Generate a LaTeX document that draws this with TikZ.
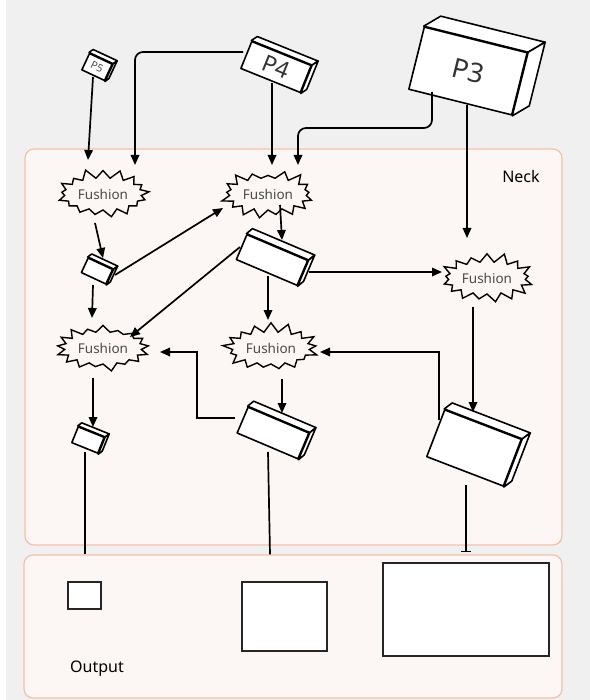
\documentclass[tikz,border=0pt]{standalone}
\usepackage{fontspec}
\setmainfont{Noto Sans}
\usepackage{tikz}
\usetikzlibrary{shapes.symbols, arrows.meta, calc}
\definecolor{panelfill}{HTML}{FCF7F5}
\definecolor{paneledge}{HTML}{F6BFA9}
\definecolor{canvasgray}{HTML}{F0F0F0}
\definecolor{labelgray}{HTML}{4A4A4A}
\tikzset{
    panel/.style={draw=paneledge, line width=1.2pt, fill=panelfill, rounded corners=9pt, inner sep=0pt},
    fusion/.style={starburst, starburst points=17, starburst point height=10pt, draw=black, line width=1.4pt, fill=panelfill, text=labelgray, font=\fontsize{13.5}{15}\selectfont, minimum width=97pt, minimum height=52pt, inner sep=0pt},
    slab/.style={draw=black, line width=1.6pt, fill=white, inner sep=0pt, line join=round},
    outbox/.style={draw=black!85, line width=1.7pt, fill=white, inner sep=0pt},
    arr/.style={-{Triangle[length=10pt, width=8.5pt]}, line width=1.7pt},
    link/.style={line width=1.7pt},
    tag/.style={font=\fontsize{16}{18}\selectfont, text=black, inner sep=0pt}
}
\newcommand{\slabfaces}[3]{%
    \draw[slab] (#1.north west) -- ++(#2,#3) -- ($(#1.north east)+(#2,#3)$) -- (#1.north east) -- cycle;
    \draw[slab] (#1.north east) -- ++(#2,#3) -- ($(#1.south east)+(#2,#3)$) -- (#1.south east) -- cycle;
}
\begin{document}
\begin{tikzpicture}[x=1pt, y=-1pt]
    \useasboundingbox (0,0) rectangle (589,700);
    \fill[white] (0,0) rectangle (589,700);
    \fill[canvasgray] (6,-5) rectangle (600,705);

    \node[panel, minimum width=537pt, minimum height=396pt] (neck) at (293.5,347) {};
    \node[panel, minimum width=538pt, minimum height=143pt] (outp) at (293,626.5) {};
    \node[tag] (necktag) at (521,177) {Neck};
    \node[tag] (outtag) at (97,669) {Output};

    \node[slab, minimum width=25pt, minimum height=18pt, rotate=-25, font=\fontsize{10.5}{11}\selectfont, text=labelgray] (p5) at (97,67) {P5};
    \slabfaces{p5}{4}{-3}
    \node[slab, minimum width=64pt, minimum height=29pt, rotate=-22, font=\fontsize{23}{24}\selectfont, text=black!80] (p4) at (276,67) {P4};
    \slabfaces{p4}{6}{-4}
    \node[slab, minimum width=106pt, minimum height=64pt, rotate=-14, font=\fontsize{27}{28}\selectfont, text=black!80] (p3) at (468,71) {P3};
    \slabfaces{p3}{17}{-10}

    \node[fusion, random starburst=11] (fa) at (103,194) {Fushion};
    \node[fusion, random starburst=23] (fb) at (268,194) {Fushion};
    \node[fusion, random starburst=37] (fc) at (487,278) {Fushion};
    \node[fusion, random starburst=41] (fd) at (103,348) {Fushion};
    \node[fusion, random starburst=53] (fe) at (271,348) {Fushion};

    \node[slab, minimum width=27pt, minimum height=16pt, rotate=-25] (sa) at (97,271) {};
    \slabfaces{sa}{4}{-3}
    \node[slab, minimum width=66pt, minimum height=27pt, rotate=-23] (sb) at (272,260) {};
    \slabfaces{sb}{6}{-5}
    \node[slab, minimum width=28pt, minimum height=17pt, rotate=-22] (sc) at (88,440) {};
    \slabfaces{sc}{4}{-3}
    \node[slab, minimum width=66pt, minimum height=28pt, rotate=-23] (sd) at (273,433) {};
    \slabfaces{sd}{6}{-5}
    \node[slab, minimum width=82pt, minimum height=50pt, rotate=-21] (se) at (474,448) {};
    \slabfaces{se}{8}{-6}

    \node[outbox, minimum width=33pt, minimum height=27pt] (oa) at (84.5,595.5) {};
    \node[outbox, minimum width=85pt, minimum height=69pt] (ob) at (284.5,616.5) {};
    \node[outbox, minimum width=166pt, minimum height=93pt] (oc) at (466,609.5) {};

    \draw[arr] ([shift={(-4,10)}]p5.center) -- ([shift={(-15,-34)}]fa.center);
    \draw[arr, rounded corners=8pt] ([shift={(-33,-15)}]p4.center) -| ([shift={(32,-29)}]fa.center);
    \draw[arr] ([shift={(-4,16)}]p4.center) -- ([shift={(4,-29)}]fb.center);
    \draw[arr, rounded corners=8pt] ([shift={(-36,21)}]p3.center) |- ([shift={(30,-66)}]fb.center) -- ([shift={(30,-29)}]fb.center);
    \draw[arr] ([shift={(-1,34)}]p3.center) -- ([shift={(-20,-40)}]fc.center);

    \draw[arr] ([shift={(-8,29)}]fa.center) -- ([shift={(6,-13)}]sa.center);
    \draw[arr] ([shift={(-4,14)}]sa.center) -- ([shift={(-11,-30)}]fd.center);
    \draw[arr] ([shift={(18,4)}]sa.center) -- ([shift={(-45,14)}]fb.center);
    \draw[arr] ([shift={(-32,-13)}]sb.center) -- ([shift={(27,-11)}]fd.center);
    \draw[arr] ([shift={(12,11)}]fb.center) -- ([shift={(10,-20)}]sb.center);
    \draw[arr] ([shift={(-4,16)}]sb.center) -- ([shift={(-3,-28)}]fe.center);
    \draw[arr] ([shift={(37,12)}]sb.center) -- ([shift={(-45,-6)}]fc.center);
    \draw[arr] ([shift={(-14,29)}]fc.center) -- ([shift={(-1,-36)}]se.center);
    \draw[arr] ([shift={(-35,-28)}]se.center) |- ([shift={(49,4)}]fe.center);
    \draw[arr] ([shift={(11,31)}]fe.center) -- ([shift={(9,-20)}]sd.center);
    \draw[arr] ([shift={(-38,-15)}]sd.center) -| ([shift={(94,4)}]fd.center) -- ([shift={(57,4)}]fd.center);
    \draw[arr] ([shift={(-10,30)}]fd.center) -- ([shift={(5,-13)}]sc.center);

    \coordinate (scfoot) at ([shift={(-3,12)}]sc.center);
    \coordinate (sdfoot) at ([shift={(-5,19)}]sd.center);
    \coordinate (sefoot) at ([shift={(-8,37)}]se.center);
    \draw[link] (scfoot) -- (scfoot |- outp.north);
    \draw[link] (sdfoot) -- ([xshift=2pt]sdfoot |- outp.north);
    \draw[link, -{Bar[width=10pt]}] (sefoot) -- ([yshift=2pt]sefoot |- outp.north);
\end{tikzpicture}
\end{document}
